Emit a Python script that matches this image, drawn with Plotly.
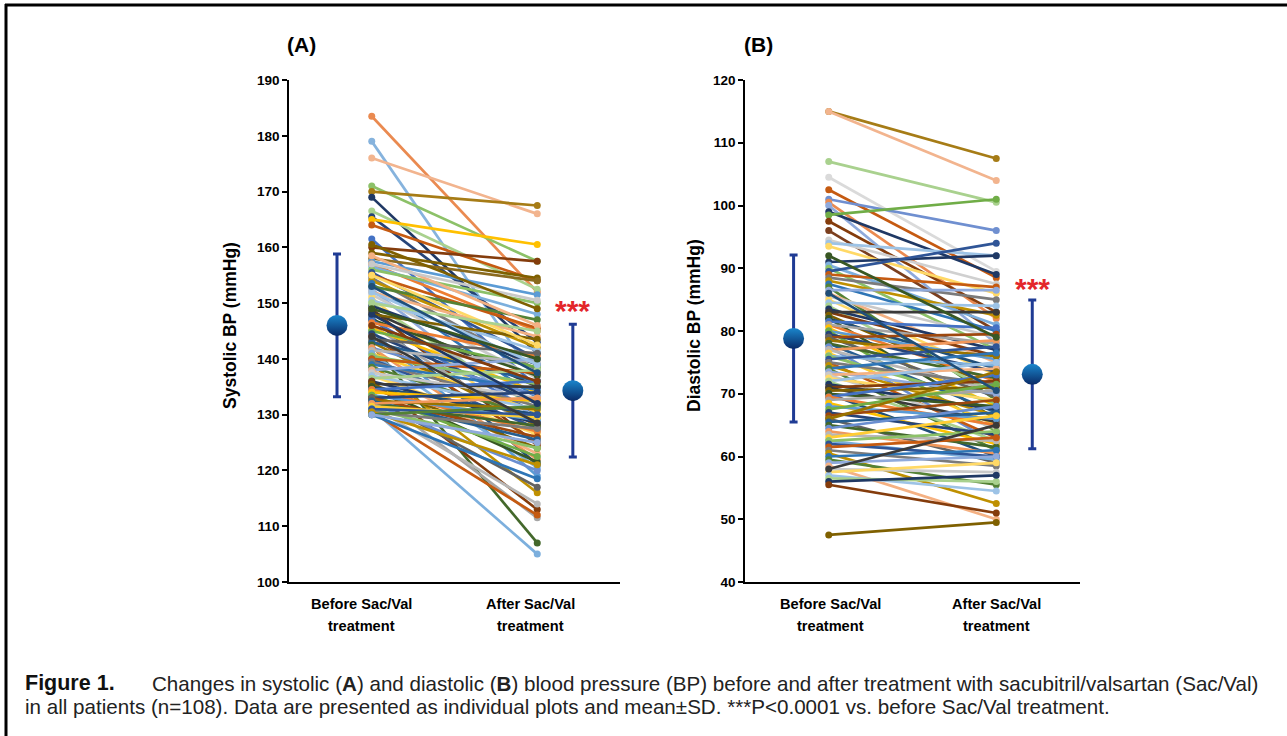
import plotly.graph_objects as go

# ---------------- data ----------------
categories = [["Before Sac/Val", "treatment"], ["After Sac/Val", "treatment"]]

sbp_before = [183.5, 179, 176, 171, 170, 169, 166.5, 165.5, 165, 164, 161.5, 160, 159, 158, 157.5, 157, 156.5, 156,
              155.5, 155, 154.5, 154, 153.5, 153, 152.5, 152, 151.5, 151, 150.5, 150, 149.5, 149, 148.5, 148, 147.5,
              147, 147, 146.5, 146, 145.5, 145, 145, 144.5, 144, 143.5, 143, 143, 142.5, 142, 142, 141.5, 141, 141,
              140.5, 140, 140, 139.5, 139, 139, 138.5, 138, 138, 137.5, 137, 137, 136.5, 136, 136, 135.5, 135.5, 135,
              135, 134.5, 134.5, 134, 134, 133.5, 133.5, 133, 133, 133, 132.5, 132.5, 132, 132, 132, 131.5, 131.5,
              131, 131, 131, 130.5, 130.5, 130.5, 130, 130, 130, 158.5, 157, 155, 152, 150, 148, 146, 144, 160.5,
              153, 149]
sbp_after = [152, 136, 166, 157.5, 167.5, 141, 152.5, 143, 160.5, 154, 135, 157.5, 154.5, 154, 151.5, 145, 148, 150,
             140, 145.5, 138, 142, 133, 147, 129, 144, 136.5, 126, 141.5, 131, 139, 124.5, 135, 143.5, 121, 137, 130,
             140.5, 127, 134, 119, 138.5, 132, 125, 141, 128, 136, 107, 133.5, 122, 139.5, 130.5, 120.5, 135.5,
             127.5, 137.5, 131.5, 116, 134.5, 129.5, 140, 123, 133, 126.5, 131, 138, 128.5, 113, 135, 124, 130,
             121.5, 136, 127, 111.5, 132.5, 129, 122.5, 134, 126, 117, 131, 125.5, 128, 120, 133, 114, 129.5, 105,
             124, 130, 112, 127.5, 121, 118.5, 131.5, 125, 146, 150.5, 142.5, 139, 145, 132, 136, 128.5, 149,
             137.5, 140]

dbp_before = [115, 115, 107, 104.5, 102.5, 101, 100.5, 100, 99, 98.5, 97.5, 96, 94.5, 94, 93.5, 91, 90.5, 90, 89.5,
              89, 88.5, 88, 87.5, 87, 86.5, 86, 85.5, 85, 84.5, 84, 83.5, 83, 83, 82.5, 82, 82, 81.5, 81, 81, 80.5,
              80, 80, 79.5, 79, 79, 78.5, 78, 78, 77.5, 77, 77, 76.5, 76, 76, 75.5, 75, 75, 74.5, 74, 74, 73.5, 73,
              73, 72.5, 72, 72, 71.5, 71, 71, 70.5, 70, 70, 69.5, 69.5, 69, 68.5, 68, 67.5, 67, 66.5, 66, 66, 65.5,
              65, 64.5, 64, 63.5, 63, 62.5, 62.5, 62, 61.5, 61, 60.5, 60, 59.5, 59, 58.5, 58, 57.5, 57, 56.5, 56,
              55.5, 58, 47.5, 86, 92]
dbp_after = [107.5, 104, 100.5, 89.5, 88.5, 96, 82, 78, 89, 101, 83, 80, 87.5, 92, 86, 92, 81, 77, 94, 87, 85, 82.5,
             80, 69, 86.5, 75, 79, 73, 84, 70, 77, 76, 83, 71, 74, 66, 80.5, 72, 78, 68, 75.5, 64, 73.5, 79.5, 69.5,
             76, 67, 72.5, 62, 78.5, 70.5, 65, 74.5, 68.5, 77.5, 63, 71.5, 66.5, 76.5, 61, 70, 74, 64.5, 69, 75,
             62.5, 67.5, 72, 65.5, 71, 60, 68, 73, 65, 70.5, 62, 66, 71.5, 63.5, 69, 59, 73.5, 67, 61.5, 68, 60.5,
             62.5, 66.5, 59.5, 64, 60, 63, 58.5, 52.5, 61, 55.5, 60, 50, 57.5, 59, 54.5, 56, 57, 51, 65, 49.5,
             70.5, 79]

sbp_mean = [146.0, 134.3]
sbp_sd = [12.8, 11.9]
dbp_mean = [78.8, 73.1]
dbp_sd = [13.3, 11.85]

sbp_lead_colors = ["#EA8A50", "#86B3DD", "#F2B48E", "#8CC168", "#A67C16", "#1F3864", "#A9D18E", "#264478",
                   "#FFC000", "#C55A11", "#4472C4", "#843C0C", "#7F6000", "#8A6A1E", "#5B9BD5", "#ED7D31"]
dbp_lead_colors = ["#A67C16", "#F2B48E", "#A9D18E", "#DADADA", "#C55A11", "#6F8FD0", "#EA8A50", "#8FAADC",
                   "#1F3864", "#70AD47", "#843C0C", "#7B3F1E", "#D0D0D0", "#9DC3E6", "#FFD966", "#1F3864"]
palette = ["#4472C4", "#ED7D31", "#A5A5A5", "#FFC000", "#5B9BD5", "#70AD47",
           "#264478", "#9E480E", "#636363", "#997300", "#255E91", "#43682B",
           "#698ED0", "#F1975A", "#B7B7B7", "#FFCD33", "#7CAFDD", "#8CC168",
           "#2F5597", "#C55A11", "#7B7B7B", "#BF9000", "#2E75B6", "#548235",
           "#8FAADC", "#F4B183", "#C9C9C9", "#FFD966", "#9DC3E6", "#A9D18E",
           "#1F3864", "#843C0C", "#3A3A3A", "#7F6000", "#1F4E79", "#385723"]

X_BEFORE, X_AFTER = 1.0, 3.0
MEAN_X = [0.58, 3.43]

fig = go.Figure()

def add_panel(before, after, means, sds, lead, xa, ya):
    for i, (b, a) in enumerate(zip(before, after)):
        c = lead[i] if i < len(lead) else palette[i % len(palette)]
        fig.add_trace(go.Scatter(x=[X_BEFORE, X_AFTER], y=[b, a], mode="lines+markers",
                                 line=dict(color=c, width=2.7), marker=dict(color=c, size=7),
                                 xaxis=xa, yaxis=ya, showlegend=False, hoverinfo="y"))
    fig.add_trace(go.Scatter(x=MEAN_X, y=means, mode="markers",
                             error_y=dict(type="data", array=sds, visible=True, color="#1f3b94",
                                          thickness=3, width=4),
                             marker=dict(size=21, color="#1a86cc",
                                         gradient=dict(type="vertical", color="#0a2a66"),
                                         line=dict(width=0)),
                             xaxis=xa, yaxis=ya, showlegend=False))

add_panel(sbp_before, sbp_after, sbp_mean, sbp_sd, sbp_lead_colors, "x", "y")
add_panel(dbp_before, dbp_after, dbp_mean, dbp_sd, dbp_lead_colors, "x2", "y2")

W, H = 1287, 736
def px(v): return v / W
def py(v): return 1 - v / H

FONT = "Liberation Sans, Arial, sans-serif"
common_x = dict(range=[0, 4], showgrid=False, zeroline=False, showline=True, linecolor="#000",
                linewidth=1.5, showticklabels=False, ticks="", fixedrange=True, automargin=False)
common_y = dict(showgrid=False, zeroline=False, showline=True, linecolor="#000", linewidth=1.5,
                ticks="outside", ticklen=5, tickwidth=1.5, tickcolor="#000", automargin=False,
                tickfont=dict(family=FONT, size=13.5, color="#000", weight="bold"))

fig.update_layout(
    width=W, height=H, margin=dict(l=0, r=0, t=0, b=0, autoexpand=False),
    paper_bgcolor="white", plot_bgcolor="white",
    xaxis=dict(domain=[px(289), px(620)], anchor="y", **common_x),
    yaxis=dict(domain=[py(582), py(80)], range=[100, 190], dtick=10, anchor="x", **common_y),
    xaxis2=dict(domain=[px(745), px(1080)], anchor="y2", **common_x),
    yaxis2=dict(domain=[py(582), py(80)], range=[40, 120], dtick=10, anchor="x2", **common_y),
)

ann = []
def label(x, y, text, size, color="#000", xanchor="center", yanchor="middle", xref="paper", angle=0,
          family=FONT):
    ann.append(dict(x=x, y=y, xref=xref, yref="paper", text=text, showarrow=False, xanchor=xanchor,
                    yanchor=yanchor, textangle=angle, font=dict(size=size, family=family, color=color)))

for xa, xs in (("x", [0.88, 2.92]), ("x2", [1.02, 3.0])):
    for xv, lines in zip(xs, categories):
        for k, t in enumerate(lines):
            label(xv, py(604 + 22 * k), "<b>" + t + "</b>", 14.6, xref=xa)
label(px(301), py(44), "<b>(A)</b>", 21)
label(px(758), py(44), "<b>(B)</b>", 21)
label(px(230), py(326), "<b>Systolic BP (mmHg)</b>", 17.5, angle=-90)
label(px(694), py(326), "<b>Diastolic BP (mmHg)</b>", 17.5, angle=-90)
label(MEAN_X[1], py(310), "<b>***</b>", 30, color="#e3262b", xref="x")
label(MEAN_X[1], py(288), "<b>***</b>", 30, color="#e3262b", xref="x2")
label(px(23), py(683), "<b>Figure 1.</b>", 21.5, color="#111", xanchor="left",
      family="Liberation Sans Narrow, " + FONT)
label(px(150), py(683),
      "Changes in systolic (<b>A</b>) and diastolic (<b>B</b>) blood pressure (BP) before and after treatment with sacubitril/valsartan (Sac/Val)",
      20.6, color="#222", xanchor="left")
label(px(23), py(706),
      "in all patients (n=108). Data are presented as individual plots and mean±SD. ***P<0.0001 vs. before Sac/Val treatment.",
      20.6, color="#222", xanchor="left")
fig.update_layout(annotations=ann)

fig.add_shape(type="line", xref="paper", yref="paper", x0=px(5), x1=1, y0=py(5), y1=py(5),
              line=dict(color="#000", width=3))
fig.add_shape(type="line", xref="paper", yref="paper", x0=px(6), x1=px(6), y0=py(4), y1=0,
              line=dict(color="#000", width=3))

fig.write_html("out.html", config={"displayModeBar": False},
               post_script="document.body.style.margin='0';document.body.style.padding='0';"
                           "document.documentElement.style.overflow='hidden';")
